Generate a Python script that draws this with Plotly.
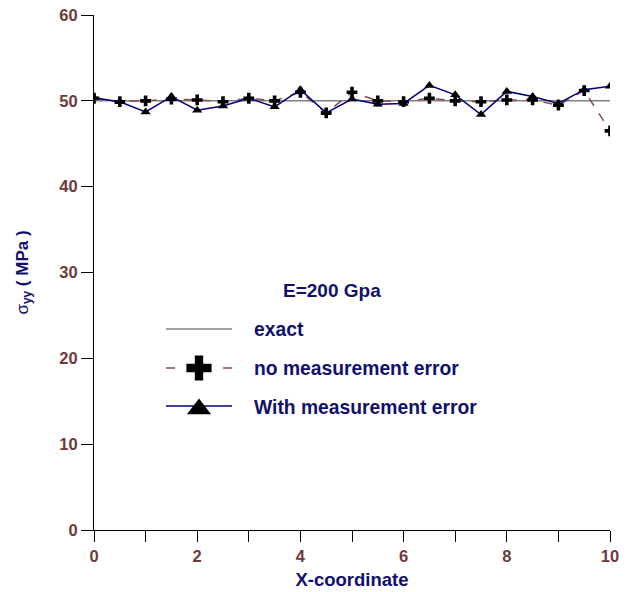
import plotly.graph_objects as go

# ---- data ----
x_vals = [0, 0.5, 1, 1.5, 2, 2.5, 3, 3.5, 4, 4.5, 5, 5.5, 6, 6.5, 7, 7.5, 8, 8.5, 9, 9.5, 10]
no_error = [50.3, 49.9, 50.0, 50.2, 50.1, 49.9, 50.3, 50.0, 51.0, 48.6, 51.0, 50.0, 49.9, 50.3, 50.0, 49.9, 50.1, 50.1, 49.5, 51.2, 46.5]
with_error = [50.35, 49.9, 48.7, 50.5, 48.9, 49.4, 50.3, 49.3, 51.3, 48.6, 50.2, 49.6, 49.7, 51.8, 50.7, 48.4, 51.1, 50.5, 49.7, 51.3, 51.7]
exact_x = [0, 10]
exact_y = [50, 50]
series_names = ["exact", "no measurement error", "With measurement error"]
legend_title = "E=200 Gpa"

# ---- styles ----
font_family = "Liberation Sans, Arial, Helvetica, sans-serif"
tick_color = "#6e3a3a"
title_color = "#10106e"
exact_color = "#808080"
dash_color = "#8b4a4a"
solid_color = "#000080"

W, H = 628, 592
L, R, T, B = 94, 18, 15, 62
PX_LEFT, PX_RIGHT, PX_TOP, PX_BOTTOM = L, W - R, T, H - B  # plot area in pixels

fig = go.Figure()
fig.add_trace(go.Scatter(x=exact_x, y=exact_y, mode="lines", name=series_names[0],
                         line=dict(color=exact_color, width=1.5), showlegend=False))
fig.add_trace(go.Scatter(x=x_vals, y=no_error, mode="lines+markers", name=series_names[1],
                         line=dict(color=dash_color, width=1.5, dash="dash"),
                         marker=dict(symbol="cross", size=9, color="black"), showlegend=False))
fig.add_trace(go.Scatter(x=x_vals, y=with_error, mode="lines+markers", name=series_names[2],
                         line=dict(color=solid_color, width=1.5),
                         marker=dict(symbol="triangle-up", size=9, color="black"), showlegend=False))

# ---- custom legend drawn on an overlay pixel-space axis ----
leg_x0, leg_x1, leg_text_x = 166, 232, 252
leg_rows = [329, 368, 407]
leg_title_pos = (332, 290)
leg_mid = (leg_x0 + leg_x1) / 2

fig.add_trace(go.Scatter(x=[leg_x0, leg_x1], y=[leg_rows[0]] * 2, mode="lines", xaxis="x2", yaxis="y2",
                         line=dict(color=exact_color, width=1.5), showlegend=False, hoverinfo="skip"))
fig.add_trace(go.Scatter(x=[leg_x0, leg_x1], y=[leg_rows[1]] * 2, mode="lines", xaxis="x2", yaxis="y2",
                         line=dict(color=dash_color, width=1.5, dash="9px,19.5px"), showlegend=False, hoverinfo="skip"))
fig.add_trace(go.Scatter(x=[leg_mid], y=[leg_rows[1]], mode="markers", xaxis="x2", yaxis="y2",
                         marker=dict(symbol="cross", size=21, color="black"), showlegend=False, hoverinfo="skip"))
fig.add_trace(go.Scatter(x=[leg_x0, leg_x1], y=[leg_rows[2] - 1] * 2, mode="lines", xaxis="x2", yaxis="y2",
                         line=dict(color=solid_color, width=1.5), showlegend=False, hoverinfo="skip"))
fig.add_trace(go.Scatter(x=[leg_mid], y=[leg_rows[2] + 2], mode="markers", xaxis="x2", yaxis="y2",
                         marker=dict(symbol="triangle-up", size=21, color="black"), showlegend=False, hoverinfo="skip"))

annotations = [dict(x=leg_text_x, y=row, xref="x2", yref="y2", text=f"<b>{name}</b>",
                    showarrow=False, xanchor="left", yanchor="middle",
                    font=dict(size=19.3, color=title_color, family=font_family))
               for name, row in zip(series_names, leg_rows)]
annotations.append(dict(x=leg_title_pos[0], y=leg_title_pos[1], xref="x2", yref="y2",
                        text=f"<b>{legend_title}</b>", showarrow=False,
                        xanchor="center", yanchor="middle",
                        font=dict(size=19, color=title_color, family=font_family)))

fig.update_layout(
    width=W, height=H,
    margin=dict(l=L, r=R, t=T, b=B, autoexpand=False),
    plot_bgcolor="white", paper_bgcolor="white",
    font=dict(family=font_family),
    showlegend=False,
    annotations=annotations,
    xaxis=dict(
        range=[0, 10], showgrid=False, zeroline=False, automargin=False,
        showline=True, linecolor="black", linewidth=1,
        ticks="outside", ticklen=11, tickcolor="black", tickwidth=1,
        tick0=0, dtick=2, ticklabeloverflow="allow",
        minor=dict(ticks="outside", ticklen=11, tickcolor="black", dtick=1),
        tickfont=dict(size=16.5, color=tick_color, weight="bold"),
        title=dict(text="<b>X-coordinate</b>", font=dict(size=18.5, color=title_color), standoff=9),
    ),
    yaxis=dict(
        range=[0, 60], showgrid=False, zeroline=False, automargin=False,
        showline=True, linecolor="black", linewidth=1,
        ticks="outside", ticklen=12, tickcolor="black", tickwidth=1,
        tick0=0, dtick=10, ticklabeloverflow="allow",
        tickfont=dict(size=16.5, color=tick_color, weight="bold"),
        title=dict(text="σ<sub><b>yy</b></sub><b> ( MPa )</b>",
                   font=dict(size=17, color=title_color), standoff=26),
    ),
    xaxis2=dict(range=[PX_LEFT, PX_RIGHT], overlaying="x", visible=False, fixedrange=True),
    yaxis2=dict(range=[PX_BOTTOM, PX_TOP], overlaying="y", visible=False, fixedrange=True),
)

fig.write_html("out.html", config={"displayModeBar": False},
               post_script="document.body.style.margin='0';document.body.style.overflow='hidden';")
